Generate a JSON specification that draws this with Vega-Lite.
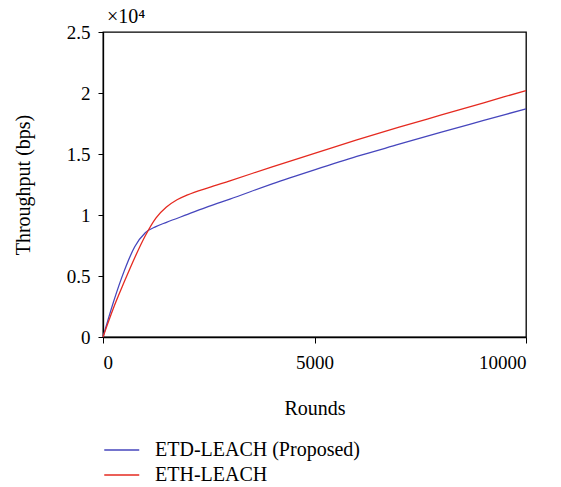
{
  "$schema": "https://vega.github.io/schema/vega-lite/v6.json",
  "autosize": {"type": "none"},
  "padding": {"left": 103, "top": 32, "right": 35, "bottom": 150},
  "width": 423,
  "height": 305,
  "title": {"text": "×10⁴", "anchor": "start", "frame": "group", "font": "Liberation Serif", "fontSize": 20, "fontWeight": "normal", "offset": -4, "dx": 4, "color": "black"},
  "data": {"values": [
    {"round": 0, "tp": 0, "series": "ETD-LEACH (Proposed)"},
    {"round": 250, "tp": 2900, "series": "ETD-LEACH (Proposed)"},
    {"round": 500, "tp": 5400, "series": "ETD-LEACH (Proposed)"},
    {"round": 750, "tp": 7400, "series": "ETD-LEACH (Proposed)"},
    {"round": 1000, "tp": 8550, "series": "ETD-LEACH (Proposed)"},
    {"round": 1250, "tp": 9050, "series": "ETD-LEACH (Proposed)"},
    {"round": 1500, "tp": 9400, "series": "ETD-LEACH (Proposed)"},
    {"round": 2000, "tp": 10050, "series": "ETD-LEACH (Proposed)"},
    {"round": 2500, "tp": 10700, "series": "ETD-LEACH (Proposed)"},
    {"round": 3000, "tp": 11300, "series": "ETD-LEACH (Proposed)"},
    {"round": 4000, "tp": 12550, "series": "ETD-LEACH (Proposed)"},
    {"round": 5000, "tp": 13700, "series": "ETD-LEACH (Proposed)"},
    {"round": 6000, "tp": 14800, "series": "ETD-LEACH (Proposed)"},
    {"round": 7000, "tp": 15800, "series": "ETD-LEACH (Proposed)"},
    {"round": 8000, "tp": 16800, "series": "ETD-LEACH (Proposed)"},
    {"round": 9000, "tp": 17750, "series": "ETD-LEACH (Proposed)"},
    {"round": 10000, "tp": 18700, "series": "ETD-LEACH (Proposed)"},
    {"round": 0, "tp": 0, "series": "ETH-LEACH"},
    {"round": 250, "tp": 2400, "series": "ETH-LEACH"},
    {"round": 500, "tp": 4500, "series": "ETH-LEACH"},
    {"round": 750, "tp": 6500, "series": "ETH-LEACH"},
    {"round": 1000, "tp": 8300, "series": "ETH-LEACH"},
    {"round": 1250, "tp": 9750, "series": "ETH-LEACH"},
    {"round": 1500, "tp": 10650, "series": "ETH-LEACH"},
    {"round": 1750, "tp": 11250, "series": "ETH-LEACH"},
    {"round": 2000, "tp": 11650, "series": "ETH-LEACH"},
    {"round": 2500, "tp": 12250, "series": "ETH-LEACH"},
    {"round": 3000, "tp": 12800, "series": "ETH-LEACH"},
    {"round": 4000, "tp": 13950, "series": "ETH-LEACH"},
    {"round": 5000, "tp": 15050, "series": "ETH-LEACH"},
    {"round": 6000, "tp": 16150, "series": "ETH-LEACH"},
    {"round": 7000, "tp": 17200, "series": "ETH-LEACH"},
    {"round": 8000, "tp": 18200, "series": "ETH-LEACH"},
    {"round": 9000, "tp": 19200, "series": "ETH-LEACH"},
    {"round": 10000, "tp": 20200, "series": "ETH-LEACH"}
  ]},
  "mark": {"type": "line", "interpolate": "monotone", "strokeWidth": 1.3},
  "encoding": {
    "x": {"field": "round", "type": "quantitative", "scale": {"domain": [0, 10000], "nice": false},
      "axis": {"values": [0, 5000, 10000], "title": "Rounds", "titlePadding": 26, "labelPadding": 10, "format": "d", "tickSize": 6}},
    "y": {"field": "tp", "type": "quantitative", "scale": {"domain": [0, 25000], "nice": false},
      "axis": {"values": [0, 5000, 10000, 15000, 20000, 25000], "title": "Throughput (bps)", "titlePadding": 33, "labelPadding": 8,
        "labelExpr": "format(datum.value/10000, '~g')"}},
    "color": {"field": "series", "type": "nominal",
      "scale": {"domain": ["ETD-LEACH (Proposed)", "ETH-LEACH"], "range": ["#4646bd", "#e52a20"]},
      "legend": {"title": null, "orient": "none", "legendX": 0, "legendY": 408, "direction": "vertical", "padding": 0,
        "symbolType": "M-1,0H3", "symbolSize": 306, "symbolStrokeWidth": 1.3, "labelOffset": 32, "rowPadding": 5, "labelLimit": 400}}
  },
  "config": {
    "font": "Liberation Serif",
    "view": {"stroke": "black", "strokeWidth": 1.3},
    "axis": {"grid": false, "domainColor": "black", "domainWidth": 1.3, "tickColor": "black", "tickSize": 5, "tickWidth": 1,
      "labelFont": "Liberation Serif", "labelFontSize": 19, "labelColor": "black",
      "titleFont": "Liberation Serif", "titleFontSize": 20, "titleFontWeight": "normal", "titleColor": "black"},
    "legend": {"labelFont": "Liberation Serif", "labelFontSize": 20, "labelColor": "black"}
  }
}
